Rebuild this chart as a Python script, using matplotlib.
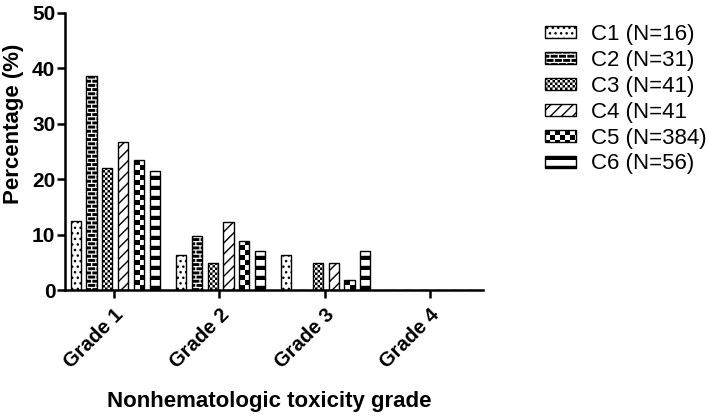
import numpy as np
import matplotlib
matplotlib.use("Agg")
import matplotlib.pyplot as plt
import matplotlib.hatch as mhatch
from matplotlib.path import Path
from matplotlib.transforms import ScaledTranslation

# ---------------- data ----------------
grades = ["Grade 1", "Grade 2", "Grade 3", "Grade 4"]
series_labels = ["C1 (N=16)", "C2 (N=31)", "C3 (N=41)", "C4 (N=41", "C5 (N=384)", "C6 (N=56)"]
c1 = [12.5, 6.25, 6.25, 0.0]
c2 = [38.7, 9.7, 0.0, 0.0]
c3 = [22.0, 4.9, 4.9, 0.0]
c4 = [26.8, 12.2, 4.9, 0.0]
c5 = [23.4, 8.9, 1.8, 0.0]
c6 = [21.4, 7.1, 7.1, 0.0]
series_values = [c1, c2, c3, c4, c5, c6]
yticks = [0, 10, 20, 30, 40, 50]

# ---------------- custom hatch patterns ----------------
plt.rcParams['hatch.linewidth'] = 1.0
_SHRINK = 0.0069  # compensates stroke of filled hatch shapes


def _rects_path(rects):
    verts, codes = [], []
    for (x0, y0, x1, y1) in rects:
        x0 += _SHRINK; y0 += _SHRINK; x1 -= _SHRINK; y1 -= _SHRINK
        if x1 <= x0 or y1 <= y0:
            continue
        verts += [(x0, y0), (x1, y0), (x1, y1), (x0, y1), (x0, y0)]
        codes += [Path.MOVETO, Path.LINETO, Path.LINETO, Path.LINETO, Path.CLOSEPOLY]
    return Path(np.array(verts, float), np.array(codes, Path.code_type))


def _checker(n):
    s = 1.0 / n
    return _rects_path([(i * s, j * s, (i + 1) * s, (j + 1) * s)
                        for i in range(n) for j in range(n) if (i + j) % 2 == 0])


def _bands(n, frac):
    s = 1.0 / n
    return _rects_path([(-0.02, j * s, 1.02, j * s + frac * s) for j in range(n)])


def _bricks(n, mortar):
    s = 1.0 / n
    rects = []
    for j in range(2 * n):
        off = 0.5 * s if j % 2 else 0.0
        y0 = j * s / 2
        for k in range(-1, n + 1):
            x0 = k * s + off
            rects.append((x0 + mortar / 2, y0 + mortar / 2, x0 + s - mortar / 2, y0 + s / 2 - mortar / 2))
    return _rects_path(rects)


_custom = {
    'O': _checker(20),        # large checkerboard
    'o': _checker(40),        # fine checkerboard
    '+': _bricks(12, 0.013),  # brick pattern
    '-': _bands(10, 0.42),    # thick horizontal bands
}
_orig_get_path = mhatch.get_path


def _get_path(hatchpattern, density=6):
    if hatchpattern in _custom:
        return _custom[hatchpattern]
    return _orig_get_path(hatchpattern, density)


mhatch.get_path = _get_path

hatches = ['...', '+', 'o', '///', 'O', '-']

# ---------------- figure ----------------
plt.rcParams['font.family'] = ['Liberation Sans', 'DejaVu Sans']
fig = plt.figure(figsize=(7.09, 4.18), dpi=100)
ax = fig.add_axes([65 / 709, 1 - 290 / 418, (483 - 65) / 709, (290 - 13) / 418])

x = np.arange(len(grades))
spacing = 0.15
width = 0.097
handles = []
for i, (vals, h, lab) in enumerate(zip(series_values, hatches, series_labels)):
    b = ax.bar(x + (i - 2.5) * spacing + 0.012, vals, width, facecolor='white',
               edgecolor='black', linewidth=1.0, hatch=h, label=lab)
    handles.append(b)

ax.set_xlim(-0.465, 3.504)
ax.set_ylim(0, 50)
ax.set_yticks(yticks)
ax.set_yticklabels([str(v) for v in yticks], fontsize=15, fontweight='bold')
ax.set_xticks(x)
ax.set_xticklabels(grades, fontsize=14.5, fontweight='bold', rotation=45,
                   ha='right', va='top', rotation_mode='anchor')
shift = ScaledTranslation(-4 / 100, -2 / 100, fig.dpi_scale_trans)
for lbl in ax.get_xticklabels():
    lbl.set_transform(lbl.get_transform() + shift)
for sp in ['top', 'right']:
    ax.spines[sp].set_visible(False)
for sp in ['left', 'bottom']:
    ax.spines[sp].set_linewidth(1.8)
ax.tick_params(axis='both', direction='out', length=6, width=1.8, pad=1)
ax.tick_params(axis='x', pad=5)

ax.set_ylabel("Percentage (%)", fontsize=16, fontweight='bold')
ax.yaxis.set_label_coords(-0.098, 0.6)
ax.set_xlabel("Nonhematologic toxicity grade", fontsize=16, fontweight='bold')
ax.xaxis.set_label_coords(0.488, -0.366)

fig.legend(handles=handles, labels=series_labels, loc='upper left',
           bbox_to_anchor=(545 / 709, 1 - 24 / 418), frameon=False,
           fontsize=16, handlelength=1.4, handleheight=0.45,
           handletextpad=0.65, labelspacing=0.22, borderpad=0, borderaxespad=0)

fig.savefig("out.png", dpi=100)
